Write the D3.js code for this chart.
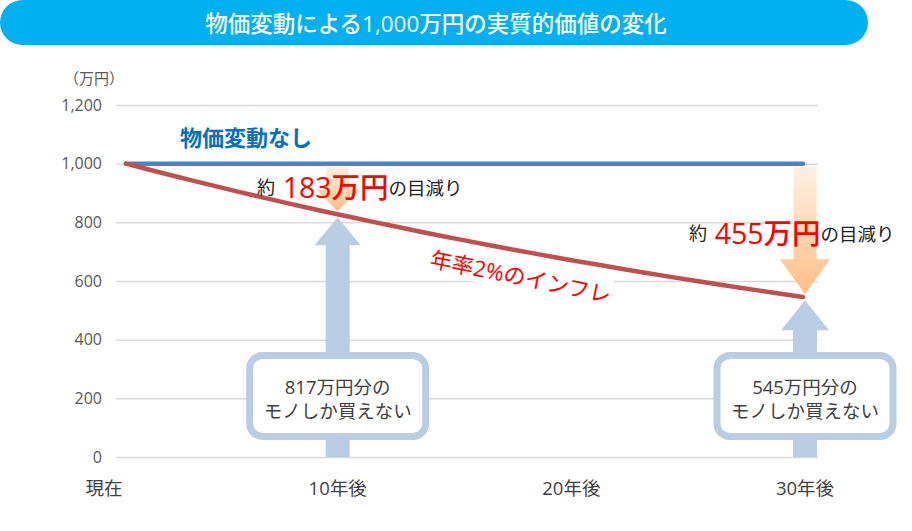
<!DOCTYPE html>
<html><head><meta charset="utf-8">
<script src="https://cdn.jsdelivr.net/npm/d3@7"></script>
<style>
html,body{margin:0;padding:0;background:#fff;}
svg{display:block;font-family:"Open Sans","Noto Sans CJK JP",sans-serif;}
</style></head>
<body>
<svg id="chart" width="912" height="531"></svg>
<script>
// ---- data ----
const title = "物価変動による1,000万円の実質的価値の変化";
const unitLabel = "（万円）";
const yTicks = [0, 200, 400, 600, 800, 1000, 1200];
const xLabels = ["現在", "10年後", "20年後", "30年後"];
const xLabelYears = [0, 10, 20, 30];
const years = [0,1,2,3,4,5,6,7,8,9,10,11,12,13,14,15,16,17,18,19,20,21,22,23,24,25,26,27,28,29,30];
const noChange = [1000,1000,1000,1000,1000,1000,1000,1000,1000,1000,1000,1000,1000,1000,1000,1000,1000,1000,1000,1000,1000,1000,1000,1000,1000,1000,1000,1000,1000,1000,1000];
const inflation = [1000,980,960.4,941.2,922.4,903.9,885.8,868.1,850.8,833.7,817.1,800.7,784.7,769.0,753.6,738.6,723.8,709.3,695.1,681.2,667.6,654.3,641.2,628.4,615.8,603.5,591.4,579.6,568.0,556.7,545.5];
const seriesNames = ["物価変動なし", "年率2%のインフレ"];
const calloutYears = [10, 30];
const lossValues = ["183万円", "455万円"];
const remainTexts = [["817万円分の", "モノしか買えない"], ["545万円分の", "モノしか買えない"]];

// ---- chart ----
const svg = d3.select("#chart");
const defs = svg.append("defs");
const grad = defs.append("linearGradient").attr("id","og").attr("x1",0).attr("y1",0).attr("x2",0).attr("y2",1);
grad.append("stop").attr("offset","0%").attr("stop-color","#fff1e3");
grad.append("stop").attr("offset","100%").attr("stop-color","#ffbf84");

// title bar
svg.append("rect").attr("x",0).attr("y",0).attr("width",868).attr("height",45).attr("rx",22.5).attr("fill","#00b0f0");
svg.append("text").attr("x",436).attr("y",23).attr("text-anchor","middle").attr("dominant-baseline","central")
  .attr("fill","#fff").attr("font-size",22.5).attr("font-weight",500).text(title);

const y = d3.scaleLinear().domain([0,1200]).range([457,105]);
const x = d3.scaleLinear().domain([0,30]).range([126,803]);
const xl = d3.scaleLinear().domain([0,30]).range([104,805]);

// grid + y axis
const gAxis = svg.append("g").attr("transform","translate(116,0)")
  .call(d3.axisLeft(y).tickValues(yTicks).tickSize(-702).tickPadding(14).tickFormat(d3.format(",")));
gAxis.select(".domain").remove();
gAxis.selectAll(".tick line").attr("stroke","#d9d9d9").attr("stroke-width",1.5);
gAxis.selectAll(".tick text").attr("fill","#595959").attr("font-size",16).attr("font-family","Open Sans, Noto Sans CJK JP");

svg.append("text").attr("x",94).attr("y",78).attr("text-anchor","middle").attr("dominant-baseline","central")
  .attr("fill","#595959").attr("font-size",15).text(unitLabel);

// x labels
svg.selectAll(".xl").data(xLabels).enter().append("text")
  .attr("x",(d,i)=>xl(xLabelYears[i])).attr("y",487).attr("text-anchor","middle").attr("dominant-baseline","central")
  .attr("fill","#404040").attr("font-size",18.5).text(d=>d);

// red line value at a pixel x
function redAt(px){
  const t = x.invert(px);
  const i = Math.min(Math.floor(t), years.length-2);
  const f = t - i;
  return inflation[i]*(1-f) + inflation[i+1]*f;
}

function arrowPath(cx, yStart, yTip, shaftW, headHalf, headH){
  const dir = yTip > yStart ? 1 : -1;
  const yb = yTip - dir*headH;
  return `M${cx-shaftW/2},${yStart}L${cx-shaftW/2},${yb}L${cx-headHalf},${yb}L${cx},${yTip}L${cx+headHalf},${yb}L${cx+shaftW/2},${yb}L${cx+shaftW/2},${yStart}Z`;
}

const arrowSpecs = [
  {oHead:22, oHalf:22, bHead:28, bHalf:23},
  {oHead:35, oHalf:25, bHead:30, bHalf:24}
];

calloutYears.forEach((yr,i)=>{
  const cx = xl(yr);
  const ry = y(redAt(cx));
  const sp = arrowSpecs[i];
  svg.append("path").attr("d",arrowPath(cx, y(1000)+3, ry-3, 23, sp.oHalf, sp.oHead)).attr("fill","url(#og)");
  svg.append("path").attr("d",arrowPath(cx, y(0), ry+3, 24, sp.bHalf, sp.bHead)).attr("fill","#b9cde5");
});

// lines
const line = d3.line().x((d,i)=>x(years[i])).y(d=>y(d));
svg.append("path").datum(noChange).attr("d",line).attr("fill","none").attr("stroke","#4f81bd").attr("stroke-width",4.5).attr("stroke-linecap","round");
svg.append("path").datum(inflation).attr("d",line).attr("fill","none").attr("stroke","#c0504d").attr("stroke-width",4.5).attr("stroke-linecap","round");

// series labels
svg.append("text").attr("x",180).attr("y",137).attr("dominant-baseline","central")
  .attr("fill","#0070c0").attr("font-size",22).attr("font-weight",700).text(seriesNames[0]);

const lblG = svg.append("g").attr("transform","translate(521,276) rotate(11.5)");
lblG.append("rect").attr("x",-82).attr("y",-15).attr("width",174).attr("height",30).attr("fill","#fff");
lblG.append("text").attr("x",0).attr("y",0).attr("text-anchor","middle").attr("dominant-baseline","central")
  .attr("fill","#ff0000").attr("font-size",22).text(seriesNames[1]);

// loss annotations
const lossPos = [{x:257,y:187},{x:689,y:233}];
lossValues.forEach((v,i)=>{
  const t = svg.append("text").attr("x",lossPos[i].x).attr("y",lossPos[i].y).attr("dominant-baseline","central");
  t.append("tspan").attr("fill","#222").attr("font-size",18).text("約 ");
  t.append("tspan").attr("fill","#ff0000").attr("font-size",28.5).attr("font-weight",500).attr("dx",3).text(v);
  t.append("tspan").attr("fill","#222").attr("font-size",18.5).text("の目減り");
});

// boxes
calloutYears.forEach((yr,i)=>{
  const cx = xl(yr);
  svg.append("rect").attr("x",cx-88).attr("y",355.5).attr("width",176).attr("height",81).attr("rx",13)
    .attr("fill","#fff").attr("stroke","#b9cde5").attr("stroke-width",7);
  remainTexts[i].forEach((s,j)=>{
    svg.append("text").attr("text-anchor","middle").attr("fill","#404040").attr("font-size",18.5)
      .attr("x",cx).attr("y",386+j*24).attr("dominant-baseline","central").text(s);
  });
});
</script>
</body></html>
